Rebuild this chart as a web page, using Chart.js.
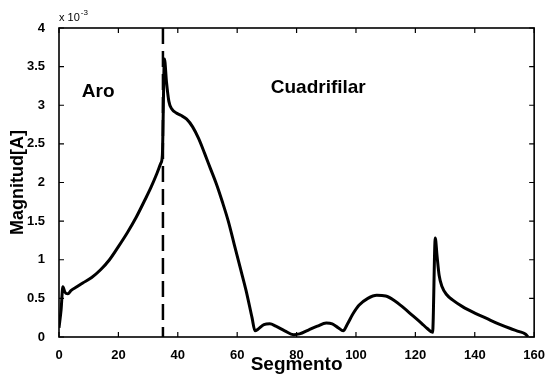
<!DOCTYPE html>
<html>
<head>
    <title>Magnitud por segmento</title>
    <script src="https://cdn.jsdelivr.net/npm/chart.js"></script>
    <style>
        html, body { margin: 0; padding: 0; background: #fff; }
        #wrap { width: 548px; height: 376px; }
    </style>
</head>
<body>
    <div id="wrap">
        <canvas id="lineChart" width="548" height="376"></canvas>
    </div>

    <script>
        // datos (magnitud en unidades de 1e-3 A)
        const segmento = [
            0, 0.7, 1.3, 2, 3, 4, 6, 8, 11, 14, 17, 20, 23, 26, 29, 31, 33, 34.3, 34.8,
            35.5, 36.2, 37, 38, 39.5, 41, 43, 45, 47, 49, 51, 53, 55, 57, 59, 61, 63, 65,
            66, 67, 69, 71, 73, 76, 79, 81, 84, 87, 90, 92, 94, 95.7, 97, 99, 101, 104,
            107, 110, 113, 116, 119, 122, 124, 125.8, 126.7, 127.3, 128, 129, 130.5,
            132.5, 136, 140, 144, 148, 152, 155, 157, 158
        ];
        const magnitud = [
            0.12, 0.35, 0.65, 0.58, 0.56, 0.6, 0.65, 0.7, 0.77, 0.87, 1.0, 1.17, 1.35, 1.55, 1.78, 1.94, 2.12, 2.25, 2.35,
            3.6, 3.3, 3.05, 2.95, 2.9, 2.87, 2.82, 2.72, 2.57, 2.38, 2.18, 1.98, 1.75, 1.5, 1.2, 0.9, 0.6, 0.25,
            0.08, 0.1, 0.16, 0.17, 0.14, 0.08, 0.03, 0.04, 0.09, 0.14, 0.18, 0.17, 0.12, 0.08, 0.16, 0.3, 0.41, 0.5,
            0.54, 0.53, 0.47, 0.38, 0.28, 0.18, 0.11, 0.06, 1.28, 1.05, 0.8, 0.65, 0.55,
            0.48, 0.39, 0.31, 0.24, 0.17, 0.11, 0.07, 0.04, 0.0
        ];
        // linea divisoria entre el aro y la cuadrifilar
        const divisionX = [35, 35];
        const divisionY = [4, 0];

        const etiquetas = [
            { text: 'Aro', x: 7.7, y: 3.17 },
            { text: 'Cuadrifilar', x: 71.3, y: 3.22 }
        ];

        const fuente = "'Liberation Sans', Arial, sans-serif";

        // marco tipo matlab con marcas hacia dentro
        const marcoPlugin = {
            id: 'marco',
            afterDraw(chart) {
                const ctx = chart.ctx;
                const a = chart.chartArea;
                const xs = chart.scales.x;
                const ys = chart.scales.y;
                const len = 5;
                ctx.save();
                ctx.strokeStyle = '#000';
                ctx.lineWidth = 1.6;
                ctx.strokeRect(a.left, a.top, a.right - a.left, a.bottom - a.top);
                ctx.lineWidth = 1.2;
                ctx.beginPath();
                xs.ticks.forEach(t => {
                    const px = xs.getPixelForValue(t.value);
                    ctx.moveTo(px, a.bottom); ctx.lineTo(px, a.bottom - len);
                    ctx.moveTo(px, a.top); ctx.lineTo(px, a.top + len);
                });
                ys.ticks.forEach(t => {
                    const py = ys.getPixelForValue(t.value);
                    ctx.moveTo(a.left, py); ctx.lineTo(a.left + len, py);
                    ctx.moveTo(a.right, py); ctx.lineTo(a.right - len, py);
                });
                ctx.stroke();

                // textos dentro del grafico
                ctx.fillStyle = '#000';
                ctx.font = 'bold 19px ' + fuente;
                ctx.textBaseline = 'middle';
                ctx.textAlign = 'left';
                etiquetas.forEach(e => {
                    ctx.fillText(e.text, xs.getPixelForValue(e.x), ys.getPixelForValue(e.y));
                });

                // factor de escala
                ctx.font = '11px ' + fuente;
                ctx.textBaseline = 'alphabetic';
                ctx.fillText('x 10', a.left, a.top - 7);
                const w = ctx.measureText('x 10').width;
                ctx.font = '8px ' + fuente;
                ctx.fillText('-3', a.left + w + 1, a.top - 13);
                ctx.restore();
            }
        };

        const ctx = document.getElementById('lineChart').getContext('2d');
        const chart = new Chart(ctx, {
            type: 'line',
            data: {
                datasets: [{
                    data: segmento.map((s, i) => ({ x: s, y: magnitud[i] })),
                    borderColor: '#000',
                    borderWidth: 3,
                    pointRadius: 0,
                    cubicInterpolationMode: 'monotone',
                    fill: false
                }, {
                    data: divisionX.map((s, i) => ({ x: s, y: divisionY[i] })),
                    borderColor: '#000',
                    borderWidth: 2.5,
                    borderDash: [16, 7],
                    pointRadius: 0,
                    fill: false
                }]
            },
            options: {
                responsive: false,
                animation: false,
                layout: { padding: { left: 0, top: 28, right: 11, bottom: 0 } },
                plugins: {
                    legend: { display: false },
                    tooltip: { enabled: false }
                },
                scales: {
                    x: {
                        type: 'linear',
                        min: 0,
                        max: 160,
                        grid: { display: false },
                        border: { display: false },
                        ticks: {
                            stepSize: 20,
                            color: '#000',
                            padding: 3,
                            maxRotation: 0,
                            font: { family: fuente, size: 13, weight: 'bold' }
                        },
                        title: {
                            display: true,
                            text: 'Segmento',
                            color: '#000',
                            padding: { top: 0, bottom: 0 },
                            font: { family: fuente, size: 19, weight: 'bold' }
                        },
                        afterFit(scale) { scale.height = 39; }
                    },
                    y: {
                        min: 0,
                        max: 4,
                        grid: { display: false },
                        border: { display: false },
                        ticks: {
                            stepSize: 0.5,
                            color: '#000',
                            padding: 6,
                            font: { family: fuente, size: 13, weight: 'bold' },
                            callback: v => String(v)
                        },
                        title: {
                            display: true,
                            text: 'Magnitud[A]',
                            color: '#000',
                            padding: { top: 7, bottom: 0 },
                            font: { family: fuente, size: 18, weight: 'bold' }
                        },
                        afterFit(scale) { scale.width = 59; }
                    }
                }
            },
            plugins: [marcoPlugin]
        });
    </script>
</body>
</html>
